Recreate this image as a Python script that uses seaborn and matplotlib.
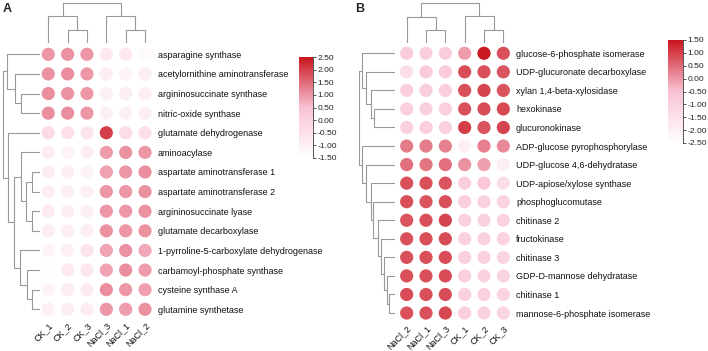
import numpy as np
import pandas as pd
import matplotlib
matplotlib.use('Agg')
import matplotlib.pyplot as plt
from matplotlib.colors import LinearSegmentedColormap, Normalize
import seaborn as sns

# ---- panel A data ----
a_cols = ['CK_1', 'CK_2', 'CK_3', 'NaCl_3', 'NaCl_1', 'NaCl_2']
a_rows = ['asparagine synthase', 'acetylornithine aminotransferase',
          'argininosuccinate synthase', 'nitric-oxide synthase',
          'glutamate dehydrogenase', 'aminoacylase',
          'aspartate aminotransferase 1', 'aspartate aminotransferase 2',
          'argininosuccinate lyase', 'glutamate decarboxylase',
          '1-pyrroline-5-carboxylate dehydrogenase',
          'carbamoyl-phosphate synthase', 'cysteine synthase A',
          'glutamine synthetase']
a_vals = [
    [1.00, 1.05, 1.00, -0.80, -0.75, -1.30],
    [1.05, 1.10, 1.00, -0.90, -1.05, -0.95],
    [1.10, 1.05, 1.00, -1.00, -0.90, -0.95],
    [1.10, 1.10, 1.00, -1.00, -1.00, -0.95],
    [-0.30, -0.45, -0.60, 2.00, -0.30, -0.45],
    [-0.90, -1.10, -0.95, 0.95, 1.05, 1.00],
    [-0.90, -0.95, -1.10, 0.90, 1.00, 1.10],
    [-0.95, -0.95, -1.00, 1.00, 1.00, 1.05],
    [-0.85, -0.95, -1.00, 1.00, 1.00, 1.05],
    [-0.90, -0.95, -0.95, 1.05, 1.00, 1.05],
    [-1.10, -1.00, -0.60, 0.85, 1.05, 0.80],
    [-1.40, -0.80, -0.70, 0.85, 1.10, 0.95],
    [-1.10, -0.90, -0.80, 1.10, 1.00, 0.90],
    [-1.00, -0.90, -0.90, 1.00, 0.95, 1.05],
]
a_ticks = [-1.5, -1.0, -0.5, 0.0, 0.5, 1.0, 1.5, 2.0, 2.5]
# trees: (height, left, right) or leaf index
a_row_tree = (37, (33, 0, (25, 1, (19.3, 2, 3))),
              (32, 4, (26, (19.3, 5, (14, (8, 6, 7), (8, 8, 9))),
                       (20, 10, (13.3, 11, (8, 12, 13))))))
a_col_tree = (40, (27, 0, (13, 1, 2)), (27, 3, (13, 4, 5)))

# ---- panel B data ----
b_cols = ['NaCl_2', 'NaCl_1', 'NaCl_3', 'CK_1', 'CK_2', 'CK_3']
b_rows = ['glucose-6-phosphate isomerase', 'UDP-glucuronate decarboxylase',
          'xylan 1,4-beta-xylosidase', 'hexokinase', 'glucuronokinase',
          'ADP-glucose pyrophosphorylase', 'UDP-glucose 4,6-dehydratase',
          'UDP-apiose/xylose synthase', 'phosphoglucomutase', 'chitinase 2',
          'fructokinase', 'chitinase 3', 'GDP-D-mannose dehydratase',
          'chitinase 1', 'mannose-6-phosphate isomerase']
b_vals = [
    [-0.80, -0.85, -0.85, -0.05, 1.45, 0.80],
    [-1.40, -0.80, -0.80, 0.85, 0.80, 0.75],
    [-0.90, -0.85, -0.90, 0.80, 0.95, 0.75],
    [-0.90, -0.95, -0.90, 0.80, 0.85, 0.90],
    [-0.95, -0.90, -0.95, 1.00, 0.75, 0.95],
    [0.30, 0.30, 0.25, -2.00, 0.25, 0.15],
    [0.45, 0.40, 0.45, 0.05, -0.10, -2.00],
    [0.80, 0.80, 0.75, -0.85, -0.70, -1.40],
    [0.80, 0.75, 0.80, -0.90, -1.00, -1.05],
    [0.75, 0.80, 0.95, -1.00, -1.00, -1.05],
    [0.80, 0.80, 0.85, -1.00, -1.00, -1.05],
    [0.80, 0.80, 0.85, -0.95, -1.00, -1.10],
    [0.80, 0.80, 0.85, -0.95, -1.00, -1.10],
    [0.85, 0.80, 0.85, -0.95, -1.00, -1.10],
    [0.80, 0.80, 0.90, -0.95, -1.00, -1.10],
]
b_ticks = [-2.5, -2.0, -1.5, -1.0, -0.5, 0.0, 0.5, 1.0, 1.5]
b_row_tree = (36, (33.3, 0, (29, 1, (24.3, 2, (21, 3, 4)))),
              (33.3, 5, (29, 6, (24.3, 7, (22, 8, (17.3, 9, (14.3, 10,
               (11, 11, (8.3, 12, (6, 13, 14))))))))))
b_col_tree = (40, (26, 0, (13, 1, 2)), (27, 3, (13, 4, 5)))

sns.set_theme(style='white')
plt.rcParams['font.family'] = ['Liberation Sans', 'DejaVu Sans']

cmap = LinearSegmentedColormap.from_list('wpr', ['#ffffff', '#f9c2d4', '#c8141c'])
W, H = 708, 351
fig = plt.figure(figsize=(W / 100, H / 100), dpi=100)


def box(x0, y0, x1, y1):
    return [x0 / W, 1 - y1 / H, (x1 - x0) / W, (y1 - y0) / H]


def draw_tree(ax, node, side):
    # returns (leaf position, height) of the node
    if isinstance(node, int):
        return node, 0
    h, left, right = node
    p1, h1 = draw_tree(ax, left, side)
    p2, h2 = draw_tree(ax, right, side)
    hs = [h1, h, h, h2]
    ps = [p1, p1, p2, p2]
    if side == 'left':
        ax.plot(hs, ps, color='#999999', lw=0.8)
    else:
        ax.plot(ps, hs, color='#999999', lw=0.8)
    return (p1 + p2) / 2, h


def panel(cols, rows, vals, ticks, row_tree, col_tree, hm, left, top, cb, letter):
    df = pd.DataFrame(vals, index=rows, columns=cols)
    long = df.reset_index().melt(id_vars='index', var_name='sample', value_name='z')
    vmin, vmax = ticks[0], ticks[-1]

    ax = fig.add_axes(box(*hm))
    sns.scatterplot(data=long, x='sample', y='index', hue='z', palette=cmap,
                    hue_norm=(vmin, vmax), s=90, linewidth=0, legend=False, ax=ax)
    ax.set_xlim(-0.5, len(cols) - 0.5)
    ax.set_ylim(len(rows) - 0.5, -0.5)
    ax.set_xlabel('')
    ax.set_ylabel('')
    ax.yaxis.tick_right()
    ax.tick_params(axis='y', length=0, pad=2.2, labelsize=6.5, labelcolor='#111111')
    ax.tick_params(axis='x', length=0, pad=1, labelsize=6.5, labelcolor='#111111')
    plt.setp(ax.get_xticklabels(), rotation=45, ha='right', rotation_mode='anchor')
    for s in ax.spines.values():
        s.set_visible(False)

    axl = fig.add_axes(box(*left))
    draw_tree(axl, row_tree, 'left')
    axl.set_xlim(38, 0)
    axl.set_ylim(len(rows) - 0.5, -0.5)
    axl.axis('off')

    axt = fig.add_axes(box(*top))
    draw_tree(axt, col_tree, 'top')
    axt.set_xlim(-0.5, len(cols) - 0.5)
    axt.set_ylim(0, 41)
    axt.axis('off')

    cax = fig.add_axes(box(*cb))
    sm = plt.cm.ScalarMappable(norm=Normalize(vmin, vmax), cmap=cmap)
    cbar = fig.colorbar(sm, cax=cax, ticks=ticks)
    cbar.outline.set_visible(False)
    cax.spines['right'].set_visible(True)
    cax.spines['right'].set_color('#555555')
    cax.spines['right'].set_linewidth(0.7)
    cax.set_yticklabels(['%.2f' % t for t in ticks])
    cax.tick_params(length=2.5, width=0.7, color='#555555', pad=0.8,
                    labelsize=6.1, labelcolor='#222222')

    fig.text(letter[0] / W, 1 - letter[1] / H, letter[2], fontsize=9,
             fontweight='bold', ha='left', va='center')


panel(a_cols, a_rows, a_vals, a_ticks, a_row_tree, a_col_tree,
      (38.6, 44.5, 154.7, 319.1), (2, 44.5, 40, 319.1), (38.6, 2, 154.7, 43),
      (299, 57, 313, 158), (3, 9, 'A'))
panel(b_cols, b_rows, b_vals, b_ticks, b_row_tree, b_col_tree,
      (397, 44, 513, 322.3), (357, 44, 395, 322.3), (397, 2, 513, 43),
      (668, 40, 683, 143), (355, 9, 'B'))

fig.savefig('out.png', dpi=100)
plt.close(fig)
